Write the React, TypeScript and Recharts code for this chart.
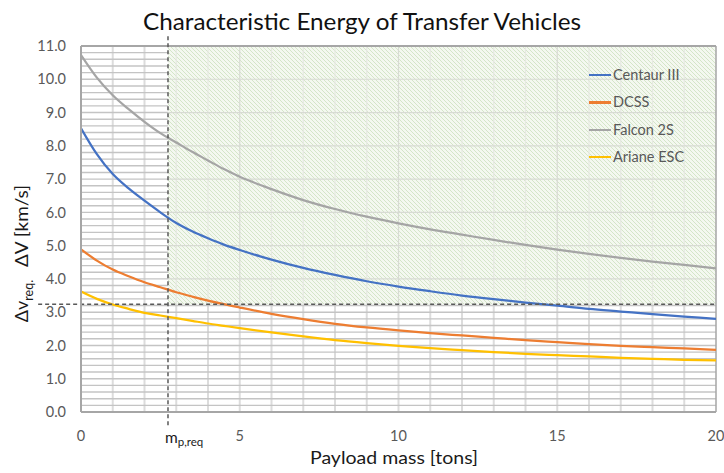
import React from 'react';
import { LineChart, Line, XAxis, YAxis, ReferenceLine, ReferenceArea } from 'recharts';

const FONT = "Lato, 'Open Sans', sans-serif";

// Payload mass [tons]
const payloadMass = [0, 0.5, 1, 1.5, 2, 2.5, 3, 3.5, 4, 4.5, 5, 6, 7, 8, 9, 10, 11, 12, 13, 14, 15, 16, 17, 18, 19, 20];
// Delta V [km/s]
const centaurIII = [8.53, 7.75, 7.15, 6.72, 6.35, 6.0, 5.68, 5.43, 5.22, 5.03, 4.87, 4.58, 4.33, 4.12, 3.93, 3.77, 3.63, 3.5, 3.39, 3.29, 3.2, 3.1, 3.02, 2.94, 2.87, 2.8];
const dcss = [4.89, 4.55, 4.28, 4.08, 3.9, 3.75, 3.6, 3.47, 3.35, 3.24, 3.14, 2.95, 2.79, 2.65, 2.54, 2.45, 2.37, 2.3, 2.23, 2.16, 2.1, 2.04, 1.99, 1.95, 1.91, 1.87];
const falcon2S = [10.73, 10.05, 9.52, 9.1, 8.72, 8.38, 8.1, 7.82, 7.56, 7.3, 7.07, 6.7, 6.37, 6.1, 5.87, 5.67, 5.49, 5.33, 5.17, 5.02, 4.88, 4.75, 4.63, 4.52, 4.42, 4.32];
const arianeESC = [3.62, 3.4, 3.23, 3.1, 2.98, 2.9, 2.82, 2.74, 2.66, 2.59, 2.52, 2.39, 2.27, 2.16, 2.07, 1.99, 1.92, 1.86, 1.8, 1.75, 1.71, 1.67, 1.63, 1.6, 1.57, 1.55];

const xTicks = [0, 5, 10, 15, 20];
const yTicks = [0, 1, 2, 3, 4, 5, 6, 7, 8, 9, 10, 11];

const mReq = 2.74;
const dvReq = 3.24;

const series = [
  { key: 'centaur', name: 'Centaur III', color: '#4472C4' },
  { key: 'dcss', name: 'DCSS', color: '#ED7D31' },
  { key: 'falcon', name: 'Falcon 2S', color: '#A5A5A5' },
  { key: 'ariane', name: 'Ariane ESC', color: '#FFC000' },
];

// grid helper values (styling)
const minorX = Array.from({ length: 19 }, (_, i) => i + 1);
const minorY = Array.from({ length: 54 }, (_, i) => Math.round((i + 1) * 2) / 10).filter((v) => v < 11);
const greenX = minorX.filter((v) => v > mReq);
const greenY = yTicks.filter((v) => v > dvReq && v < 11);

const MLabel = (props: any) => {
  const vb = props.viewBox || {};
  return (
    <text x={vb.x - 3} y={443} fontFamily={FONT} fill="#1a1a1a" fontSize={15.5}>
      m
      <tspan dy={3} fontSize={11.5}>p,req</tspan>
    </text>
  );
};

const DvLabel = (props: any) => {
  const vb = props.viewBox || {};
  const cx = 28;
  const cy = vb.y + 18;
  return (
    <text x={cx} y={cy} transform={`rotate(-90, ${cx}, ${cy})`} fontFamily={FONT} fill="#1a1a1a" fontSize={18}>
      Δv
      <tspan dy={5} fontSize={12.5}>req.</tspan>
    </text>
  );
};

export default function App() {
  const rows = payloadMass.map((x, i) => ({
    x,
    centaur: centaurIII[i],
    dcss: dcss[i],
    falcon: falcon2S[i],
    ariane: arianeESC[i],
  }));

  return (
    <div style={{ position: 'absolute', left: 0, top: 0, width: 724, height: 473, background: '#fff', fontFamily: FONT }}>
      <LineChart width={724} height={473} data={rows} margin={{ top: 46, right: 8, bottom: 31, left: 21 }}>
        <defs>
          <pattern id="hatch" patternUnits="userSpaceOnUse" width="4" height="4">
            <rect width="4" height="4" fill="#F4F8F0" />
            <path d="M-1,-1 L5,5 M-1,3 L1,5 M3,-1 L5,1" stroke="#D4E5C8" strokeWidth="1" />
          </pattern>
        </defs>
        <XAxis
          type="number"
          dataKey="x"
          domain={[0, 20]}
          ticks={xTicks}
          interval={0}
          allowDataOverflow
          height={30}
          tickSize={0}
          tickMargin={19}
          tickLine={false}
          axisLine={{ stroke: '#A6A6A6', strokeWidth: 2 }}
          tick={{ fill: '#595959', fontSize: 14.5, fontFamily: FONT }}
        />
        <YAxis
          type="number"
          domain={[0, 11]}
          ticks={yTicks}
          interval={0}
          allowDataOverflow
          width={60}
          tickSize={0}
          tickMargin={15}
          tickLine={false}
          tickFormatter={(v: number) => v.toFixed(1)}
          axisLine={{ stroke: '#A6A6A6', strokeWidth: 2 }}
          tick={{ fill: '#595959', fontSize: 14.5, fontFamily: FONT }}
        />
        {minorX.map((v) => (
          <ReferenceLine key={'vx' + v} x={v} stroke="#DCDCDC" strokeWidth={2} zIndex={-90} />
        ))}
        {minorY.map((v) => (
          <ReferenceLine key={'hy' + v} y={v} stroke="#C4C4C4" strokeWidth={1.4} zIndex={-90} />
        ))}
        <ReferenceArea x1={mReq} x2={20} y1={dvReq} y2={11} fill="url(#hatch)" fillOpacity={1} stroke="none" zIndex={-80} />
        {greenX.map((v) => (
          <ReferenceLine
            key={'gx' + v}
            segment={[{ x: v, y: dvReq }, { x: v, y: 11 }]}
            stroke={v % 5 === 0 ? '#D8DBD4' : '#E6E9E2'}
            strokeWidth={1.2}
            zIndex={-70}
          />
        ))}
        {greenY.map((v) => (
          <ReferenceLine
            key={'gy' + v}
            segment={[{ x: mReq, y: v }, { x: 20, y: v }]}
            stroke="#D8DBD4"
            strokeWidth={1.2}
            zIndex={-70}
          />
        ))}
        <ReferenceLine y={11} stroke="#A6A6A6" strokeWidth={2} zIndex={-60} />
        <ReferenceLine x={20} stroke="#A6A6A6" strokeWidth={1.5} zIndex={-60} />
        {series.map((s) => (
          <Line
            key={s.key}
            type="monotone"
            dataKey={s.key}
            name={s.name}
            stroke={s.color}
            strokeWidth={2.25}
            dot={false}
            activeDot={false}
            isAnimationActive={false}
          />
        ))}
        <ReferenceLine
          segment={[{ x: mReq, y: -0.4 }, { x: mReq, y: 11.3 }]}
          ifOverflow="visible"
          stroke="#595959"
          strokeWidth={1.5}
          strokeDasharray="4 3"
          zIndex={450}
          label={<MLabel />}
        />
        <ReferenceLine
          segment={[{ x: -1.35, y: dvReq }, { x: 20, y: dvReq }]}
          ifOverflow="visible"
          stroke="#595959"
          strokeWidth={1.5}
          strokeDasharray="4 3"
          zIndex={450}
          label={<DvLabel />}
        />
      </LineChart>
      <svg width={724} height={473} style={{ position: 'absolute', left: 0, top: 0, pointerEvents: 'none' }}>
        <text x={362} y={30} textAnchor="middle" fontFamily={FONT} fontSize={23.5} fill="#111" textLength={438} lengthAdjust="spacingAndGlyphs">
          Characteristic Energy of Transfer Vehicles
        </text>
        <text x={394} y={464} textAnchor="middle" fontFamily={FONT} fontSize={17.5} fill="#1a1a1a" textLength={168} lengthAdjust="spacingAndGlyphs">
          Payload mass [tons]
        </text>
        <text x={28} y={226} transform="rotate(-90, 28, 226)" textAnchor="middle" fontFamily={FONT} fontSize={17.5} fill="#1a1a1a" textLength={82} lengthAdjust="spacingAndGlyphs">
          ΔV [km/s]
        </text>
      </svg>
      <div style={{ position: 'absolute', left: 589, top: 61.3, fontFamily: FONT }}>
        {series.map((s) => (
          <div key={s.key} style={{ height: 27.4, display: 'flex', alignItems: 'center' }}>
            <div style={{ width: 22, height: 2.25, background: s.color }} />
            <span style={{ marginLeft: 2, fontSize: 14.5, color: '#595959', lineHeight: '16px' }}>{s.name}</span>
          </div>
        ))}
      </div>
    </div>
  );
}
